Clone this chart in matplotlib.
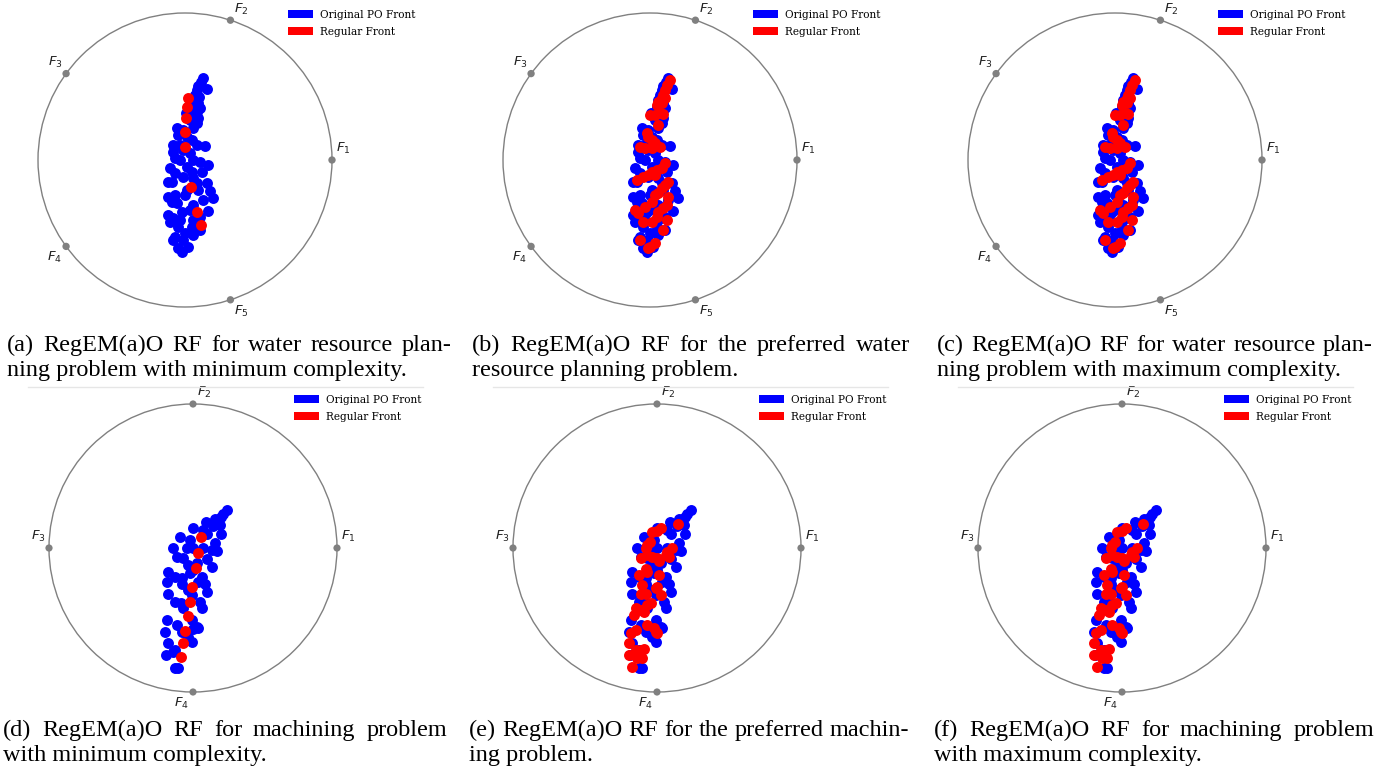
import matplotlib
matplotlib.use("Agg")
import matplotlib.pyplot as plt
import numpy as np
from matplotlib.patches import Circle, Patch
from matplotlib.lines import Line2D

W, H = 1393, 780

# water resource planning problem, original PO front (RadViz coordinates)
water_po_x = [0.125, 0.107, 0.091, 0.152, 0.079, 0.068, 0.098, 0.057, 0.091, 0.045, 0.102, 0.079, 0.007,
              0.057, 0.091, 0.034, 0.079, -0.057, -0.011, 0.057, -0.045, 0.011, 0.045, -0.079, -0.034,
              0.079, 0.136, -0.079, -0.011, 0.034, -0.068, -0.034, 0.057, 0.102, 0.159, -0.102, 0.011,
              0.045, -0.068, 0.113, -0.011, 0.057, -0.113, -0.091, 0.079, 0.147, 0.011, 0.091, 0.170,
              -0.113, -0.068, 0.000, 0.193, -0.091, -0.057, 0.125, 0.057, 0.034, 0.159, -0.113, -0.023,
              -0.079, -0.034, 0.102, -0.102, 0.057, -0.045, 0.045, 0.102, 0.000, -0.068, -0.079, 0.057,
              -0.011, 0.023, -0.045, -0.023]
water_po_y = [0.556, 0.533, 0.506, 0.483, 0.476, 0.442, 0.431, 0.408, 0.385, 0.363, 0.351, 0.329, 0.317,
              0.306, 0.283, 0.272, 0.249, 0.215, 0.204, 0.215, 0.170, 0.159, 0.136, 0.102, 0.102,
              0.102, 0.098, 0.057, 0.068, 0.045, 0.011, 0.000, 0.000, -0.011, -0.034, -0.057, -0.045,
              -0.079, -0.091, -0.079, -0.113, -0.125, -0.147, -0.152, -0.159, -0.159, -0.204, -0.204, -0.211,
              -0.249, -0.238, -0.238, -0.261, -0.283, -0.295, -0.272, -0.306, -0.340, -0.345, -0.374, -0.351,
              -0.397, -0.408, -0.385, -0.420, -0.408, -0.454, -0.454, -0.476, -0.499, -0.522, -0.544, -0.510,
              -0.544, -0.590, -0.601, -0.624]

# regular front, minimum complexity
water_min_x = [0.023, 0.016, 0.005, 0.000, 0.000, 0.039, 0.084, 0.107]
water_min_y = [0.420, 0.361, 0.283, 0.193, 0.091, -0.181, -0.356, -0.442]

# regular front, preferred / maximum complexity
water_max_x = [0.136, 0.113, 0.102, 0.091, 0.079, 0.102, 0.057, 0.045, 0.079, 0.000, 0.034, 0.068, 0.091,
               0.057, -0.023, -0.011, 0.011, 0.034, 0.068, -0.068, -0.034, 0.011, 0.102, 0.079, 0.045,
               0.011, -0.011, 0.034, -0.045, -0.091, 0.125, 0.102, 0.079, 0.057, 0.034, 0.011, 0.125,
               -0.034, 0.113, 0.091, -0.102, -0.079, 0.057, 0.045, -0.045, 0.011, 0.113, 0.091, -0.068,
               0.034, 0.000, -0.011]
water_max_y = [0.544, 0.510, 0.476, 0.442, 0.420, 0.420, 0.397, 0.374, 0.385, 0.306, 0.306, 0.317, 0.311,
               0.238, 0.181, 0.159, 0.136, 0.113, 0.091, 0.091, 0.079, 0.079, -0.023, -0.057, -0.068,
               -0.079, -0.102, -0.102, -0.113, -0.136, -0.147, -0.170, -0.193, -0.227, -0.238, -0.283, -0.249,
               -0.317, -0.306, -0.329, -0.340, -0.363, -0.351, -0.385, -0.420, -0.420, -0.408, -0.476, -0.544,
               -0.567, -0.590, -0.601]

# machining problem, original PO front
mach_po_x = [0.234, 0.211, 0.192, 0.153, 0.090, 0.137, 0.188, 0.002, 0.072, 0.100, 0.194, -0.090, -0.021,
             0.153, -0.137, -0.044, 0.002, 0.072, 0.130, 0.164, -0.113, -0.067, 0.095, 0.025, -0.032,
             0.130, 0.002, -0.171, -0.125, -0.079, -0.021, 0.060, -0.183, -0.079, 0.083, 0.037, -0.032,
             0.095, -0.009, -0.171, -0.125, -0.086, 0.049, -0.067, 0.060, -0.009, -0.183, -0.113, 0.025,
             0.037, 0.002, -0.194, -0.079, -0.032, -0.009, -0.171, -0.125, -0.137, -0.188, -0.125, -0.102]
mach_po_y = [0.264, 0.234, 0.218, 0.201, 0.178, 0.155, 0.160, 0.137, 0.125, 0.095, 0.097, 0.079, 0.056,
             0.032, 0.002, 0.002, -0.002, -0.002, -0.014, -0.021, -0.060, -0.067, -0.076, -0.106, -0.118,
             -0.130, -0.153, -0.164, -0.199, -0.211, -0.176, -0.199, -0.238, -0.252, -0.252, -0.238, -0.292,
             -0.308, -0.326, -0.319, -0.373, -0.384, -0.373, -0.419, -0.419, -0.500, -0.500, -0.535, -0.546,
             -0.558, -0.563, -0.581, -0.581, -0.616, -0.650, -0.662, -0.708, -0.720, -0.743, -0.831, -0.836]

mach_min_x = [0.056, 0.037, 0.019, -0.005, -0.021, -0.037, -0.056, -0.072, -0.086]
mach_min_y = [0.079, -0.037, -0.141, -0.269, -0.377, -0.470, -0.576, -0.662, -0.759]

mach_max_x = [0.146, 0.025, 0.002, -0.032, -0.049, -0.067, -0.079, 0.106, 0.072, 0.060, 0.083, -0.113,
              -0.067, -0.032, 0.002, 0.014, -0.079, -0.067, -0.125, 0.014, -0.102, 0.002, -0.009, 0.025,
              -0.113, -0.079, -0.044, -0.067, -0.148, -0.113, -0.090, -0.160, -0.067, -0.021, -0.009, 0.002,
              -0.148, -0.183, -0.194, -0.148, -0.113, -0.090, -0.137, -0.194, -0.102, -0.171]
mach_max_y = [0.164, 0.137, 0.118, 0.109, 0.044, 0.021, 0.002, -0.002, -0.030, -0.049, -0.060, -0.072,
              -0.049, -0.060, -0.072, -0.090, -0.146, -0.164, -0.188, -0.188, -0.257, -0.269, -0.280, -0.326,
              -0.322, -0.322, -0.384, -0.396, -0.414, -0.431, -0.442, -0.465, -0.535, -0.553, -0.581, -0.593,
              -0.569, -0.593, -0.662, -0.708, -0.708, -0.701, -0.762, -0.743, -0.762, -0.824]

captions = [
    ("(a) RegEM(a)O RF for water resource plan-", "ning problem with minimum complexity."),
    ("(b) RegEM(a)O RF for the preferred water", "resource planning problem."),
    ("(c) RegEM(a)O RF for water resource plan-", "ning problem with maximum complexity."),
    ("(d) RegEM(a)O RF for machining problem", "with minimum complexity."),
    ("(e) RegEM(a)O RF for the preferred machin-", "ing problem."),
    ("(f) RegEM(a)O RF for machining problem", "with maximum complexity."),
]

# panel layout in pixels: circle centre, radius, number of objectives, legend corner
panels = [
    dict(cx=185, cy=160, r=147, n=5, po=(water_po_x, water_po_y), rf=(water_min_x, water_min_y), leg=(288, 10)),
    dict(cx=650, cy=160, r=147, n=5, po=(water_po_x, water_po_y), rf=(water_max_x, water_max_y), leg=(753, 10)),
    dict(cx=1115, cy=160, r=147, n=5, po=(water_po_x, water_po_y), rf=(water_max_x, water_max_y), leg=(1218, 10)),
    dict(cx=193, cy=548, r=144, n=4, po=(mach_po_x, mach_po_y), rf=(mach_min_x, mach_min_y), leg=(294, 395)),
    dict(cx=657, cy=548, r=144, n=4, po=(mach_po_x, mach_po_y), rf=(mach_max_x, mach_max_y), leg=(759, 395)),
    dict(cx=1122, cy=548, r=144, n=4, po=(mach_po_x, mach_po_y), rf=(mach_max_x, mach_max_y), leg=(1224, 395)),
]
caption_pos = [(7, 452, 351), (472, 910, 351), (937, 1373, 351),
               (3, 447, 736), (469, 909, 736), (934, 1374, 736)]
LINE_GAP = 25

fig = plt.figure(figsize=(W / 100, H / 100), dpi=100)
fig.patch.set_facecolor("white")

L = 1.1
for p in panels:
    half = L * p["r"]
    ax = fig.add_axes([(p["cx"] - half) / W, 1 - (p["cy"] + half) / H, 2 * half / W, 2 * half / H])
    ax.set_xlim(-L, L)
    ax.set_ylim(-L, L)
    ax.axis("off")

    ax.add_patch(Circle((0, 0), 1.0, facecolor="none", edgecolor="gray", lw=1))
    for k in range(p["n"]):
        t = 2 * np.pi * k / p["n"]
        x, y = np.cos(t), np.sin(t)
        ax.add_patch(Circle((x, y), 0.025, facecolor="gray", edgecolor="none"))
        dx = -0.025 if x < 0 else 0.025
        dy = -0.025 if y < 0 else 0.025
        ax.text(x + dx, y + dy, "$F_{%d}$" % (k + 1), ha="right" if x < 0 else "left",
                va="top" if y < 0 else "bottom", fontsize=9.5, color="#222222")

    ax.scatter(p["po"][0], p["po"][1], s=62, c="blue", linewidths=0, zorder=3)
    ax.scatter(p["rf"][0], p["rf"][1], s=62, c="red", linewidths=0, zorder=4)

    handles = [Patch(facecolor="blue", edgecolor="none", label="Original PO Front"),
               Patch(facecolor="red", edgecolor="none", label="Regular Front")]
    ax.legend(handles=handles, loc="upper left",
              bbox_to_anchor=(p["leg"][0] / W, 1 - p["leg"][1] / H), bbox_transform=fig.transFigure,
              frameon=False, borderpad=0, borderaxespad=0, handlelength=2.4, handleheight=0.75,
              handletextpad=0.6, labelspacing=0.62, prop={"family": "DejaVu Serif", "size": 7.6})

# thin rules above the lower row
for x0, x1 in [(28, 423), (493, 888), (958, 1353)]:
    fig.add_artist(Line2D([x0 / W, x1 / W], [1 - 386.5 / H] * 2, transform=fig.transFigure,
                          color="#e6e6e6", lw=1))

renderer = fig.canvas.get_renderer()
cap_font = dict(family="Liberation Serif", size=17.5, color="black", va="baseline")


def justified(text, x0, x1, ybase):
    words = text.split()
    items = [fig.text(x0 / W, 1 - ybase / H, w, **cap_font) for w in words]
    widths = [t.get_window_extent(renderer).width for t in items]
    gap = (x1 - x0 - sum(widths)) / (len(words) - 1)
    x = x0
    for t, w in zip(items, widths):
        t.set_x(x / W)
        x += w + gap


for (line1, line2), (x0, x1, yb) in zip(captions, caption_pos):
    justified(line1, x0, x1, yb)
    fig.text(x0 / W, 1 - (yb + LINE_GAP) / H, line2, **cap_font)

fig.savefig("out.png", dpi=100)
